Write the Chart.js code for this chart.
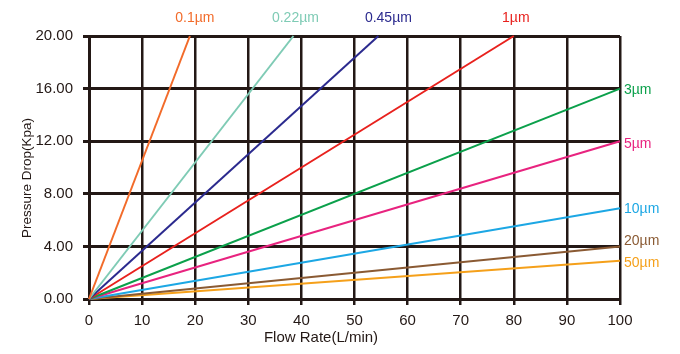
<!DOCTYPE html>
<html>
<head>
<meta charset="utf-8">
<script src="https://cdn.jsdelivr.net/npm/chart.js@4"></script>
<style>
  body { margin: 0; background: #fff; }
  #wrap { width: 680px; height: 354px; position: relative; }
</style>
</head>
<body>
<div id="wrap"><canvas id="flowChart"></canvas></div>
<script>
// filter pore sizes and where each line ends (flow L/min, pressure drop Kpa)
const sizes = ['0.1µm', '0.22µm', '0.45µm', '1µm', '3µm', '5µm', '10µm', '20µm', '50µm'];
const endFlow = [19, 38.5, 54.5, 80, 100, 100, 100, 100, 100];
const endDrop = [20, 20, 20, 20, 16, 12, 6.9, 4, 2.9];
const lineColors = ['#f26b2a', '#7fcbb5', '#2b2a8e', '#e8211d', '#0ba04b', '#e8237f', '#1ca7e4', '#8a5a33', '#f5a01a'];
// small nudges for the end labels
const labelDx = [5, 2, 10, 2, 4, 4, 4, 4, 4];
const labelDy = [0, 0, 0, 0, 2, 3, 1, -5, 2];

const ink = '#231815';
const font = 'Liberation Sans, Arial, sans-serif';

const datasets = sizes.map((name, i) => ({
    label: name,
    data: [{ x: 0, y: 0 }, { x: endFlow[i], y: endDrop[i] }],
    borderColor: lineColors[i],
    backgroundColor: lineColors[i],
    borderWidth: 2,
    pointRadius: 0,
    showLine: true,
    clip: false
}));

// labels at the end of every line + axis titles
const endLabels = {
    id: 'endLabels',
    afterDatasetsDraw(chart) {
        const ctx = chart.ctx;
        const area = chart.chartArea;
        ctx.save();
        ctx.font = '14px ' + font;
        chart.data.datasets.forEach((ds, i) => {
            const pt = chart.getDatasetMeta(i).data[1];
            ctx.fillStyle = lineColors[i];
            if (endDrop[i] >= 20) {
                ctx.textAlign = 'center';
                ctx.textBaseline = 'middle';
                ctx.fillText(sizes[i], pt.x + labelDx[i], area.top - 18 + labelDy[i]);
            } else {
                ctx.textAlign = 'left';
                ctx.textBaseline = 'middle';
                ctx.fillText(sizes[i], pt.x + labelDx[i], pt.y + labelDy[i]);
            }
        });

        ctx.fillStyle = ink;
        ctx.textAlign = 'center';
        ctx.textBaseline = 'middle';
        ctx.font = '15px ' + font;
        ctx.fillText('Flow Rate(L/min)', 321, 338);
        ctx.translate(27, 178);
        ctx.rotate(-Math.PI / 2);
        ctx.font = '13.5px ' + font;
        ctx.fillText('Pressure Drop(Kpa)', 0, 0);
        ctx.restore();
    }
};

new Chart(document.getElementById('flowChart'), {
    type: 'scatter',
    data: { datasets: datasets },
    plugins: [endLabels],
    options: {
        responsive: true,
        maintainAspectRatio: false,
        animation: false,
        layout: { padding: { top: 36, right: 60, left: 0, bottom: 0 } },
        plugins: {
            legend: { display: false },
            tooltip: { enabled: false }
        },
        scales: {
            x: {
                type: 'linear',
                min: 0,
                max: 100,
                afterFit: (scale) => { scale.height = 55; },
                ticks: {
                    stepSize: 10,
                    color: ink,
                    padding: 7,
                    maxRotation: 0,
                    font: { family: font, size: 15 }
                },
                grid: { color: ink, lineWidth: 2.5, tickLength: 6, tickColor: ink, tickWidth: 2.5 },
                border: { color: ink, width: 3 }
            },
            y: {
                min: 0,
                max: 20,
                afterFit: (scale) => { scale.width = 89; },
                ticks: {
                    stepSize: 4,
                    color: ink,
                    padding: 10,
                    font: { family: font, size: 15 },
                    callback: (v) => v.toFixed(2)
                },
                grid: { color: ink, lineWidth: 3, tickLength: 6, tickColor: ink, tickWidth: 3 },
                border: { color: ink, width: 3 }
            }
        }
    }
});
</script>
</body>
</html>
